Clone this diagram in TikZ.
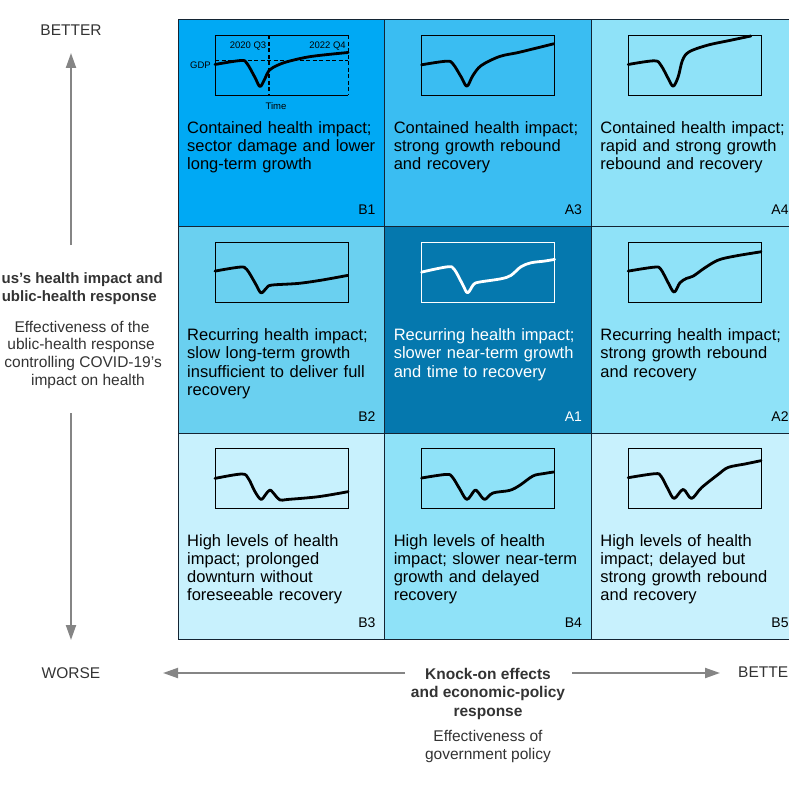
\documentclass[tikz,border=0pt]{standalone}
\usepackage{fontspec}
\setmainfont{Liberation Sans}
\usetikzlibrary{positioning, arrows.meta, calc}
\definecolor{cellB1}{HTML}{00A9F4}
\definecolor{cellA3}{HTML}{3ABDF2}
\definecolor{cellpale}{HTML}{8FE2F8}
\definecolor{cellB2}{HTML}{6AD0F0}
\definecolor{cellA1}{HTML}{0578AE}
\definecolor{cellfaint}{HTML}{C8F1FD}
\definecolor{linedark}{HTML}{142433}
\definecolor{axisgray}{HTML}{858585}
\definecolor{labelgray}{HTML}{333333}

% mini GDP chart: cell, colour, points
\newcommand{\gdpchart}[3]{%
  \begin{scope}[shift={(#1.north west)}, shift={(37,15.5)}]
    \draw[chartbox, draw=#2] (0,0) rectangle (133,60);
    \draw[gdpline, draw=#2] plot[smooth, tension=0.55] coordinates {#3};
  \end{scope}}

\begin{document}
\begin{tikzpicture}[x=1pt, y=-1pt, font=\fontsize{16.5}{18.2}\selectfont]
  \tikzstyle{cell} = [rectangle, draw=linedark, line width=1pt, minimum width=206.6pt, minimum height=206.6pt, inner sep=0pt, outer sep=0pt]
  \tikzstyle{blurb} = [anchor=base west, align=left, text width=196pt, inner sep=0pt]
  \tikzstyle{tag} = [anchor=base east, inner sep=0pt, font=\fontsize{14}{16}\selectfont]
  \tikzstyle{chartbox} = [line width=1pt]
  \tikzstyle{gdpline} = [line width=2.8pt, line cap=round, line join=round]
  \tikzstyle{tiny} = [inner sep=0pt, font=\fontsize{9.5}{11}\selectfont]
  \tikzstyle{axis} = [draw=axisgray, line width=2pt, -{Triangle[length=15pt, width=10pt]}]
  \tikzstyle{axislabel} = [inner sep=0pt, text=labelgray, font=\fontsize{15.5}{18.5}\selectfont]
  \useasboundingbox (0,0) rectangle (789,789);

  % grid of scenarios
  \node (b1) [cell, fill=cellB1, anchor=north west] at (178,20) {};
  \node (a3) [cell, fill=cellA3, right=0pt of b1] {};
  \node (a4) [cell, fill=cellpale, right=0pt of a3] {};
  \node (b2) [cell, fill=cellB2, below=0pt of b1] {};
  \node (a1) [cell, fill=cellA1, right=0pt of b2] {};
  \node (a2) [cell, fill=cellpale, right=0pt of a1] {};
  \node (b3) [cell, fill=cellfaint, below=0pt of b2] {};
  \node (b4) [cell, fill=cellpale, right=0pt of b3] {};
  \node (b5) [cell, fill=cellfaint, right=0pt of b4] {};

  \node (b1txt) [blurb] at ($(b1.north west)+(9,113)$) {Contained health impact;\\sector damage and lower\\long-term growth};
  \node (a3txt) [blurb] at ($(a3.north west)+(9,113)$) {Contained health impact;\\strong growth rebound\\and recovery};
  \node (a4txt) [blurb] at ($(a4.north west)+(9,113)$) {Contained health impact;\\rapid and strong growth\\rebound and recovery};
  \node (b2txt) [blurb] at ($(b2.north west)+(9,114)$) {Recurring health impact;\\slow long-term growth\\insufficient to deliver full\\recovery};
  \node (a1txt) [blurb, text=white] at ($(a1.north west)+(9,114)$) {Recurring health impact;\\slower near-term growth\\and time to recovery};
  \node (a2txt) [blurb] at ($(a2.north west)+(9,114)$) {Recurring health impact;\\strong growth rebound\\and recovery};
  \node (b3txt) [blurb] at ($(b3.north west)+(9,113)$) {High levels of health\\impact; prolonged\\downturn without\\foreseeable recovery};
  \node (b4txt) [blurb] at ($(b4.north west)+(9,113)$) {High levels of health\\impact; slower near-term\\growth and delayed\\recovery};
  \node (b5txt) [blurb] at ($(b5.north west)+(9,113)$) {High levels of health\\impact; delayed but\\strong growth rebound\\and recovery};

  \node (b1tag) [tag] at ($(b1.south east)+(-9,-12)$) {B1};
  \node (a3tag) [tag] at ($(a3.south east)+(-9,-12)$) {A3};
  \node (a4tag) [tag] at ($(a4.south east)+(-9,-12)$) {A4};
  \node (b2tag) [tag] at ($(b2.south east)+(-9,-12)$) {B2};
  \node (a1tag) [tag, text=white] at ($(a1.south east)+(-9,-12)$) {A1};
  \node (a2tag) [tag] at ($(a2.south east)+(-9,-12)$) {A2};
  \node (b3tag) [tag] at ($(b3.south east)+(-9,-12)$) {B3};
  \node (b4tag) [tag] at ($(b4.south east)+(-9,-12)$) {B4};
  \node (b5tag) [tag] at ($(b5.south east)+(-9,-12)$) {B5};

  % the annotated chart
  \begin{scope}[shift={(b1.north west)}, shift={(37,15.5)}]
    \draw[chartbox] (133,0) -- (0,0) -- (0,60) -- (133,60);
    \draw[chartbox, dash pattern=on 4pt off 2.5pt] (133,0) -- (133,60);
    \draw[line width=1.1pt, dash pattern=on 4pt off 2.5pt] (0,25) -- (133,25);
    \draw[line width=1.1pt, dash pattern=on 4pt off 2.5pt] (54,0) -- (54,60);
    \node (q3) [tiny] at (33,10.5) {2020 Q3};
    \node (q4) [tiny] at (112.5,10.5) {2022 Q4};
    \node (gdp) [tiny, anchor=east] at (-4,29.5) {GDP};
    \node (time) [tiny] at (61,70.5) {Time};
    \draw[gdpline] plot[smooth, tension=0.55] coordinates {(0,29) (26,25) (32,28) (40,42) (45,51) (50,43) (54,35) (62,30) (73,26) (96,21) (133,17)};
  \end{scope}

  \gdpchart{a3}{black}{(0,29.3) (24.7,25.7) (31.3,28.3) (39.7,41.7) (45.3,50.7) (51.3,40) (59.7,30) (78,21) (98,16.7) (132,8.3)}
  \gdpchart{a4}{black}{(0,29) (26,25.3) (32.7,29.7) (40,43) (45,50.7) (50,41.3) (54.3,24.7) (61,16.3) (79.3,9.7) (102.7,4.7) (122.7,0.5)}
  \gdpchart{b2}{black}{(0,29) (25,25) (31.7,27.3) (40,40.7) (46,50.7) (51.7,45.7) (56.7,43) (83.3,41.3) (106.7,38) (132.7,33.3)}
  \gdpchart{a1}{white}{(0,30) (26,24.7) (32.7,27.3) (41,42.3) (46,50.7) (52,42.3) (57.7,40) (79.3,36.7) (89.3,33.3) (99.3,24.7) (109.3,20.7) (122.7,19) (133,17.3)}
  \gdpchart{a2}{black}{(0,29) (26.7,25) (32.7,27.3) (40,40.7) (46,50) (51.7,40.7) (58.3,36.3) (65,34) (76.7,25.7) (90,18) (106.7,14) (132.7,9.7)}
  \gdpchart{b3}{black}{(0,29.7) (26.7,25.3) (33.3,29.7) (40,43) (46,50.7) (50.7,45.7) (55,41.3) (60,46.3) (65,51.3) (73.3,50.7) (103.3,48) (133,43)}
  \gdpchart{b4}{black}{(0,29.3) (24.7,25.7) (30.7,28.3) (38,40) (45.3,50.7) (53,41.7) (56.3,43.3) (63,50.7) (71.3,44.3) (88,41.7) (98,36.7) (111.3,27.3) (121.3,25) (132,23.3)}
  \gdpchart{b5}{black}{(0,29) (26.7,25) (32.7,27.3) (40,40.7) (46,49.7) (55,40.7) (63.3,49.7) (73.3,39) (90,25.7) (100,18.7) (116.7,15.3) (132.7,12)}

  % axes and their labels
  \node (better) [axislabel] at (71,30) {BETTER};
  \node (worse) [axislabel] at (71,673) {WORSE};
  \node (betterx) [axislabel, anchor=west] at (738,672) {BETTER};

  \node (hlthA) [axislabel, font=\fontsize{15}{18}\selectfont\bfseries, anchor=east] at (163,280) {us's health impact and};
  \node (hlthB) [axislabel, font=\fontsize{15}{18}\selectfont\bfseries, anchor=east] at (157,298) {ublic-health response};
  \node (effA) [axislabel] at (82,327) {Effectiveness of the};
  \node (effB) [axislabel, anchor=east] at (155,345) {ublic-health response};
  \node (effC) [axislabel, anchor=east] at (162,363) {controlling COVID-19's};
  \node (effD) [axislabel] at (88,381) {impact on health};

  \node (knock) [axislabel, font=\fontsize{15.5}{18.5}\selectfont\bfseries, align=center, anchor=north] at (488,668) {Knock-on effects\\and economic-policy\\response};
  \node (govt) [axislabel, align=center, below=10pt of knock] {Effectiveness of\\government policy};

  \coordinate (uptip) at (71,53);
  \coordinate (upfoot) at (71,245);
  \coordinate (downfoot) at (71,413);
  \coordinate (downtip) at (71,640);
  \coordinate (lefttip) at (163,673);
  \coordinate (leftfoot) at (405,673);
  \coordinate (rightfoot) at (572,673);
  \coordinate (righttip) at (720,673);
  \draw[axis] (upfoot) -- (uptip);
  \draw[axis] (downfoot) -- (downtip);
  \draw[axis] (leftfoot) -- (lefttip);
  \draw[axis] (rightfoot) -- (righttip);
\end{tikzpicture}
\end{document}
